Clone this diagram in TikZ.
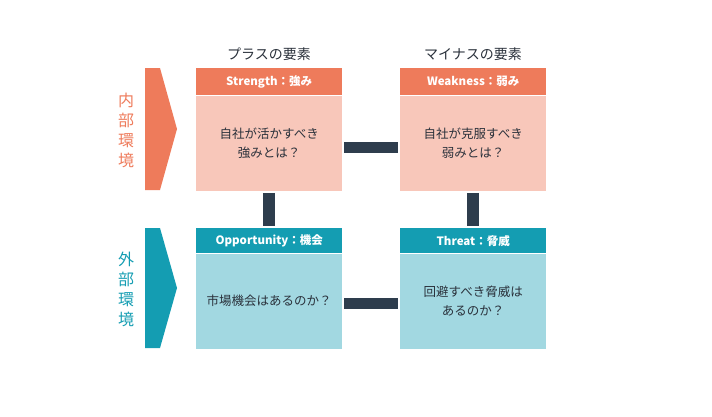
\documentclass[tikz,border=0pt]{standalone}
\usepackage{fontspec}
\setmainfont{Noto Sans CJK JP}
\usetikzlibrary{positioning}
\definecolor{plusred}{HTML}{EE7B5B}
\definecolor{pluspale}{HTML}{F8C7BA}
\definecolor{minusteal}{HTML}{149DB2}
\definecolor{minuspale}{HTML}{A2D8E1}
\definecolor{barnavy}{HTML}{2E3D4D}
\definecolor{textgray}{HTML}{2A313B}

\begin{document}
\begin{tikzpicture}[x=1pt, y=-1pt,
    head/.style={minimum width=146pt, minimum height=27pt, inner sep=0pt,
                 text=white, font=\fontsize{11.5}{13}\selectfont\bfseries},
    body/.style={minimum width=146pt, minimum height=95pt, inner sep=0pt,
                 align=center, text=textgray, font=\fontsize{12.5}{19}\selectfont},
    bar/.style={barnavy, line width=11pt},
    side/.style={font=\fontsize{16}{20}\selectfont, align=center}
]
    \useasboundingbox (0,0) rectangle (712,416);

    % column titles
    \node[text=textgray, font=\fontsize{14}{16}\selectfont] (plus) at (269,54) {プラスの要素};
    \node[text=textgray, font=\fontsize{14}{16}\selectfont] (minus) at (473,54) {マイナスの要素};

    % top row
    \node[head, fill=plusred, anchor=north west] (sh) at (196,68) {Strength：強み};
    \node[body, fill=pluspale, below=0pt of sh] (s) {自社が活かすべき\\強みとは？};
    \node[head, fill=plusred, anchor=north west] (wh) at (400,68) {Weakness：弱み};
    \node[body, fill=pluspale, below=0pt of wh] (w) {自社が克服すべき\\弱みとは？};

    % bottom row
    \node[head, fill=minusteal, anchor=north west, minimum height=25pt] (oh) at (196,228) {Opportunity：機会};
    \node[body, fill=minuspale, below=0pt of oh] (o) {市場機会はあるのか？};
    \node[head, fill=minusteal, anchor=north west, minimum height=25pt] (th) at (400,228) {Threat：脅威};
    \node[body, fill=minuspale, below=0pt of th] (t) {回避すべき脅威は\\あるのか？};

    % connecting bars
    \draw[bar, shorten <=2pt, shorten >=2pt] ([yshift=-4pt]s.east) -- ([yshift=-4pt]w.west);
    \draw[bar, shorten <=2pt, shorten >=2pt] ([yshift=-2pt]o.east) -- ([yshift=-2pt]t.west);
    \draw[bar, line width=12pt, shorten <=2pt, shorten >=2pt] (s.south) -- (oh.north);
    \draw[bar, line width=12pt, shorten <=2pt, shorten >=2pt] (w.south) -- (th.north);

    % side arrows
    \fill[plusred] (145,68) -- (160,68) -- (177,129) -- (160,190) -- (145,190) -- cycle;
    \fill[minusteal] (145,228) -- (160,228) -- (177,288) -- (160,348) -- (145,348) -- cycle;
    \node[side, text=plusred] (inner) at (126,130) {内\\部\\環\\境};
    \node[side, text=minusteal] (outer) at (126,289) {外\\部\\環\\境};
\end{tikzpicture}
\end{document}
